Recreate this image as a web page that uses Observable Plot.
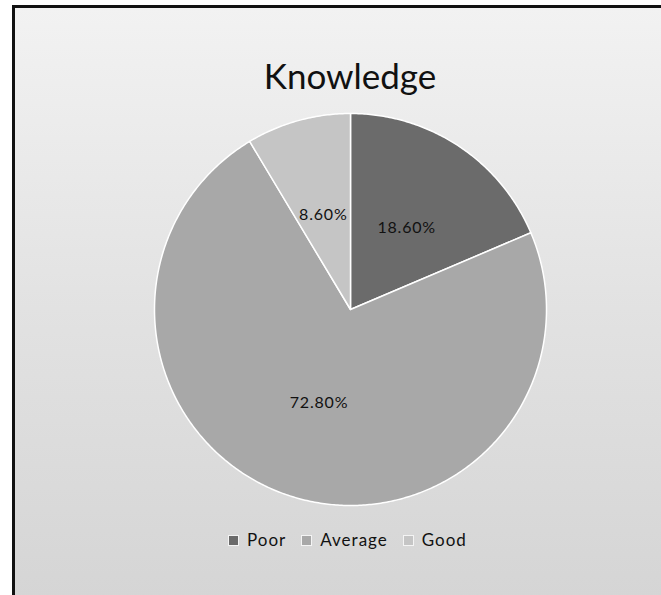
<!DOCTYPE html>
<html>
<head>
<meta charset="utf-8">
<script src="https://cdn.jsdelivr.net/npm/d3@7"></script>
<script src="https://cdn.jsdelivr.net/npm/@observablehq/plot@0.6"></script>
<style>
  html, body { margin: 0; padding: 0; }
  body { width: 661px; height: 595px; overflow: hidden; position: relative; background: #ffffff; font-family: Lato, "Open Sans", sans-serif; }
  #frame { position: absolute; left: 12px; top: 5px; width: 646px; height: 620px;
           border-left: 3px solid #111; border-top: 3px solid #111; border-right: 1px solid #8a8a8a;
           background: linear-gradient(to bottom, #f2f2f2 0px, #e2e2e2 300px, #d5d5d5 590px); }
  #title { position: absolute; left: 0; width: 700px; top: 55px; text-align: center; font-size: 35px; line-height: 40px; color: #111; }
  #chart { position: absolute; left: 0; top: 0; }
  #chart text { letter-spacing: 0.8px; }
  #legend { position: absolute; left: 229px; top: 530px; font-size: 17px; line-height: 20px; color: #111; display: flex; align-items: center; letter-spacing: 1px; }
  .sw { display: inline-block; width: 9px; height: 9px; margin-right: 9px; outline: 1px solid #f4f4f4; }
  .item { display: flex; align-items: center; margin-right: 16px; }
</style>
</head>
<body>
<div id="frame"></div>
<div id="title"></div>
<div id="chart"></div>
<div id="legend"></div>
<script>
const title = "Knowledge";
const categories = ["Poor", "Average", "Good"];
const values = [18.6, 72.8, 8.6];
const colors = ["#6b6b6b", "#a8a8a8", "#c5c5c5"];

document.getElementById("title").textContent = title;

// Build slice outlines from the values (angles clockwise from 12 o'clock)
const total = d3.sum(values);
const pie = d3.pie().sort(null).value(d => d)(values);
const outline = [];
const labels = [];
pie.forEach((p, i) => {
  const cat = categories[i];
  outline.push({cat, x: 0, y: 0});
  const n = Math.max(2, Math.ceil((p.endAngle - p.startAngle) / 0.01));
  for (let k = 0; k <= n; k++) {
    const a = p.startAngle + (p.endAngle - p.startAngle) * k / n;
    outline.push({cat, x: Math.sin(a), y: Math.cos(a)});
  }
  outline.push({cat, x: 0, y: 0});
  const m = (p.startAngle + p.endAngle) / 2;
  labels.push({cat, x: 0.52 * Math.sin(m), y: 0.5 * Math.cos(m), text: (values[i] / total * 100).toFixed(2) + "%"});
});

const chart = Plot.plot({
  width: 661,
  height: 595,
  marginLeft: 154,
  marginRight: 115,
  marginTop: 113,
  marginBottom: 90,
  style: {background: "transparent"},
  x: {domain: [-1, 1], axis: null},
  y: {domain: [-1, 1], axis: null},
  color: {domain: categories, range: colors},
  marks: [
    Plot.line(outline, {x: "x", y: "y", z: "cat", fill: "cat", stroke: "#ffffff", strokeWidth: 1.5, strokeLinejoin: "round"}),
    Plot.text(labels, {x: "x", y: "y", text: "text", fontSize: 16, fill: "#111", fontFamily: "Lato, sans-serif"})
  ]
});
document.getElementById("chart").appendChild(chart);

const legend = document.getElementById("legend");
categories.forEach((c, i) => {
  const item = document.createElement("span");
  item.className = "item";
  const sw = document.createElement("span");
  sw.className = "sw";
  sw.style.background = colors[i];
  const t = document.createElement("span");
  t.textContent = c;
  item.appendChild(sw);
  item.appendChild(t);
  legend.appendChild(item);
});
</script>
</body>
</html>
